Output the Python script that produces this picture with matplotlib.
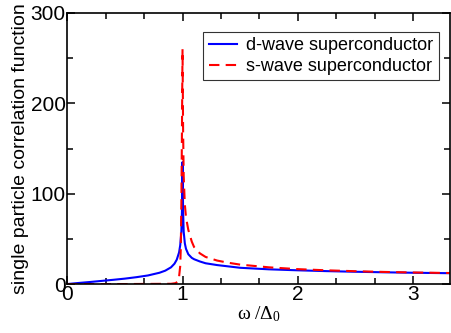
import matplotlib
matplotlib.use("Agg")
import matplotlib.pyplot as plt
from matplotlib.ticker import MultipleLocator

plt.rcParams['font.family'] = ['Liberation Sans', 'DejaVu Sans']
plt.rcParams['mathtext.fontset'] = 'custom'
plt.rcParams['mathtext.rm'] = 'Liberation Serif'
plt.rcParams['mathtext.it'] = 'Liberation Serif:italic'

# d-wave superconductor
d_omega = [0.0, 0.1, 0.2, 0.3, 0.4, 0.5, 0.6, 0.7, 0.8, 0.85, 0.9, 0.93, 0.95,
           0.97, 0.98, 0.99, 0.995, 1.0, 1.005, 1.01, 1.02, 1.03, 1.05, 1.08,
           1.1, 1.15, 1.2, 1.3, 1.5, 1.75, 2.0, 2.25, 2.5, 2.75, 3.0, 3.32]
d_corr = [0.0, 1.2, 2.3, 3.5, 4.7, 6.0, 7.6, 9.5, 12.5, 14.8, 18.5, 22.5, 27,
          35, 43, 58, 80, 135, 80, 58, 45, 39, 33, 29,
          27.5, 25, 23, 21, 18, 16.3, 15.2, 14.3, 13.6, 13.0, 12.5, 12.0]

# s-wave superconductor
s_omega = [0.0, 0.5, 0.9, 0.94, 0.96, 0.97, 0.98, 0.985, 0.99, 0.995, 1.0,
           1.005, 1.01, 1.02, 1.03, 1.05, 1.08, 1.1, 1.15, 1.2, 1.3, 1.4,
           1.5, 1.75, 2.0, 2.25, 2.5, 2.75, 3.0, 3.32]
s_corr = [0.0, 0.0, 0.3, 1.0, 3, 8, 20, 40, 90, 170, 260,
          170, 120, 88, 74, 60, 47, 41, 34, 30, 26, 23.5,
          21.5, 18.5, 16.5, 15.2, 14.2, 13.4, 12.8, 12.2]

fig = plt.figure(figsize=(4.51, 3.33), dpi=100)
ax = fig.add_axes([0.149, 0.147, 0.849, 0.814])

ax.plot(d_omega, d_corr, color='#0000ff', lw=1.5, label='d-wave superconductor')
ax.plot(s_omega, s_corr, color='#ff0000', lw=1.5, ls=(0, (5, 3)), label='s-wave superconductor')

ax.set_xlim(0, 3.32)
ax.set_ylim(0, 300)
ax.xaxis.set_major_locator(MultipleLocator(1))
ax.xaxis.set_minor_locator(MultipleLocator(1 / 3))
ax.yaxis.set_major_locator(MultipleLocator(100))
ax.yaxis.set_minor_locator(MultipleLocator(50))
ax.tick_params(which='both', direction='in', top=True, right=True, labelsize=15, width=1.1)
ax.tick_params(which='major', length=6)
ax.tick_params(which='minor', length=4)
ax.tick_params(axis='x', pad=1)
ax.tick_params(axis='y', pad=1)
for s in ax.spines.values():
    s.set_linewidth(1.2)

ax.set_xlabel(r'$\mathrm{\omega\ /\Delta_0}$', fontsize=14, labelpad=0)
ax.set_ylabel('single particle correlation function', fontsize=14, labelpad=1)

leg = ax.legend(loc='upper right', bbox_to_anchor=(0.971, 0.93), fontsize=13,
                fancybox=False, edgecolor='black', handlelength=1.6,
                handletextpad=0.5, borderpad=0.3, labelspacing=0.2,
                borderaxespad=0)
leg.get_frame().set_linewidth(0.8)

fig.savefig('out.png', dpi=100)
